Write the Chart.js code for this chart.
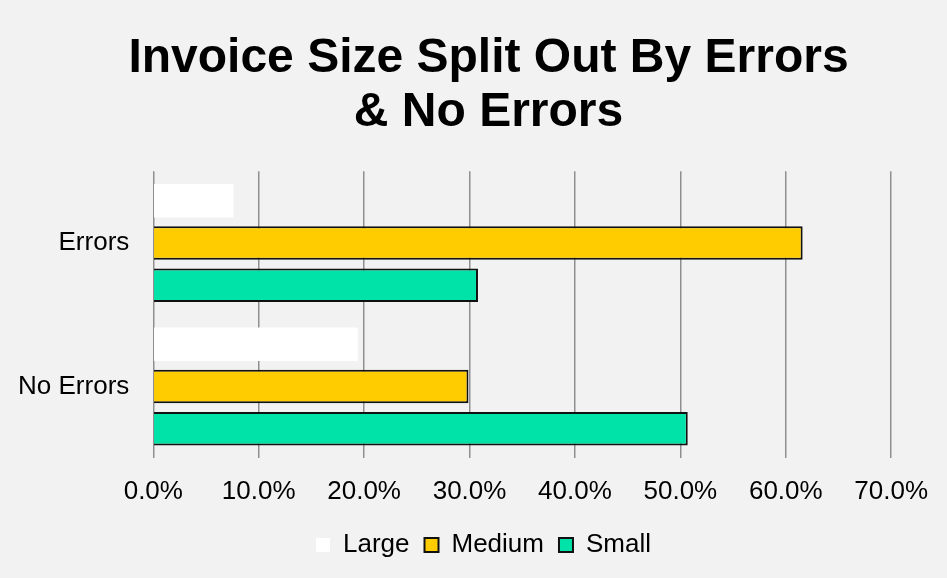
<!DOCTYPE html>
<html>
<head>
<meta charset="utf-8">
<title>Invoice Size Split Out By Errors &amp; No Errors</title>
<script src="https://cdn.jsdelivr.net/npm/chart.js@4/dist/chart.umd.min.js"></script>
<style>
  html, body { margin: 0; padding: 0; background: #f2f2f2; }
  #wrap { width: 947px; height: 578px; }
  canvas { display: block; background: #f2f2f2; }
</style>
</head>
<body>
<div id="wrap"><canvas id="chart" width="947" height="578"></canvas></div>
<script>
// Invoice groups shown on the vertical axis
const categories = ['Errors', 'No Errors'];

// Share of invoices per size band (fraction of each group)
const largeShare  = [0.076, 0.194];
const mediumShare = [0.616, 0.299];
const smallShare  = [0.308, 0.507];

// Horizontal axis range and step
const axisMin = 0;
const axisMax = 0.7;
const axisStep = 0.1;

const seriesNames = ['Large', 'Medium', 'Small'];

const FONT = '"Liberation Sans", Arial, Helvetica, sans-serif';

const data = {
  labels: categories,
  datasets: [
    {
      label: seriesNames[0],
      data: largeShare,
      backgroundColor: '#ffffff',
      borderColor: '#ffffff',
      borderWidth: 0
    },
    {
      label: seriesNames[1],
      data: mediumShare,
      backgroundColor: '#ffcc00',
      borderColor: '#111111',
      borderWidth: 2
    },
    {
      label: seriesNames[2],
      data: smallShare,
      backgroundColor: '#00e3a8',
      borderColor: '#111111',
      borderWidth: 2
    }
  ]
};

// Title and legend are centred over a span slightly right of the canvas
// middle, so widen their boxes on the left after layout.
const recentre = {
  id: 'recentre',
  afterLayout(chart) {
    const w = chart.width;
    if (chart.titleBlock) {
      chart.titleBlock.left = 30;
      chart.titleBlock.right = w;
      chart.titleBlock.width = w - 30;
    }
    if (chart.legend) {
      chart.legend.left = 20;
      chart.legend.right = w;
      chart.legend.width = w - 20;
    }
  }
};

new Chart(document.getElementById('chart'), {
  type: 'bar',
  data: data,
  plugins: [recentre],
  options: {
    indexAxis: 'y',
    responsive: false,
    animation: false,
    devicePixelRatio: 1,
    categoryPercentage: 0.884,
    barPercentage: 0.79,
    layout: {
      padding: { left: 0, right: 55.8, top: 0, bottom: 10 }
    },
    scales: {
      x: {
        min: axisMin,
        max: axisMax,
        border: { display: false },
        grid: {
          color: '#8f8f8f',
          lineWidth: 1.5,
          drawTicks: false
        },
        ticks: {
          stepSize: axisStep,
          padding: 18,
          color: '#000000',
          font: { family: FONT, size: 26 },
          callback: (v) => (v * 100).toFixed(1) + '%'
        },
        afterFit: (scale) => { scale.height = 58.75; }
      },
      y: {
        border: { display: false },
        grid: { display: false, drawTicks: false },
        ticks: {
          padding: 24,
          color: '#000000',
          font: { family: FONT, size: 26 }
        },
        afterFit: (scale) => { scale.width = 153.3; }
      }
    },
    plugins: {
      title: {
        display: true,
        text: ['Invoice Size Split Out By Errors', '& No Errors'],
        color: '#000000',
        font: { family: FONT, size: 48, weight: 'bold', lineHeight: 1.125 },
        padding: { top: 32, bottom: 31.25 }
      },
      legend: {
        position: 'bottom',
        labels: {
          color: '#000000',
          font: { family: FONT, size: 26 },
          boxWidth: 14,
          boxHeight: 14,
          padding: 15
        }
      },
      tooltip: { enabled: false }
    }
  }
});
</script>
</body>
</html>
